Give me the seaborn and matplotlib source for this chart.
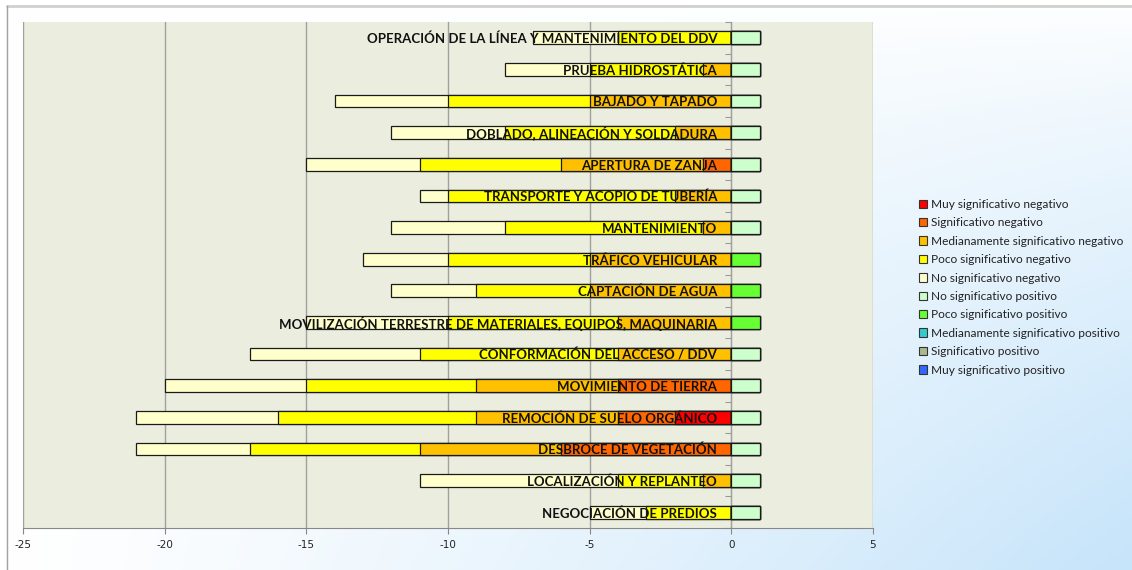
import numpy as np
import pandas as pd
import matplotlib
matplotlib.use("Agg")
import matplotlib.pyplot as plt
from matplotlib.patches import Patch
import seaborn as sns

# ---------------- data (top to bottom) ----------------
categories = [
    "OPERACIÓN DE LA LÍNEA Y MANTENIMIENTO DEL DDV",
    "PRUEBA HIDROSTÁTICA",
    "BAJADO Y TAPADO",
    "DOBLADO, ALINEACIÓN Y SOLDADURA",
    "APERTURA DE ZANJA",
    "TRANSPORTE Y ACOPIO DE TUBERÍA",
    "MANTENIMIENTO",
    "TRÁFICO VEHICULAR",
    "CAPTACIÓN DE AGUA",
    "MOVILIZACIÓN TERRESTRE DE MATERIALES, EQUIPOS, MAQUINARIA",
    "CONFORMACIÓN DEL ACCESO / DDV",
    "MOVIMIENTO DE TIERRA",
    "REMOCIÓN DE SUELO ORGÁNICO",
    "DESBROCE DE VEGETACIÓN",
    "LOCALIZACIÓN Y REPLANTEO",
    "NEGOCIACIÓN DE PREDIOS",
]
muy_sig_neg  = [0, 0, 0, 0, 0, 0, 0, 0, 0, 0, 0, 0, -2, 0, 0, 0]
sig_neg      = [0, 0, 0, 0, -1, 0, 0, 0, 0, 0, 0, -4, -2, -6, 0, 0]
med_sig_neg  = [0, -1, -5, -2, -5, -2, -1, -5, -5, -4, -4, -5, -5, -5, -1, 0]
poco_sig_neg = [-4, -4, -5, -6, -5, -8, -7, -5, -4, -6, -7, -6, -7, -6, -3, -3]
no_sig_neg   = [-3, -3, -4, -4, -4, -1, -4, -3, -3, -5, -6, -5, -5, -4, -7, -2]
no_sig_pos   = [1, 1, 1, 1, 1, 1, 1, 0, 0, 0, 1, 1, 1, 1, 1, 1]
poco_sig_pos = [0, 0, 0, 0, 0, 0, 0, 1, 1, 1, 0, 0, 0, 0, 0, 0]
med_sig_pos  = [0] * 16
sig_pos      = [0] * 16
muy_sig_pos  = [0] * 16

series_names = [
    "Muy significativo negativo",
    "Significativo negativo",
    "Medianamente significativo negativo",
    "Poco significativo negativo",
    "No significativo negativo",
    "No significativo positivo",
    "Poco significativo positivo",
    "Medianamente significativo positivo",
    "Significativo positivo",
    "Muy significativo positivo",
]
colors = ["#FF0000", "#FF6600", "#FFC000", "#FFFF00", "#FFFFCC",
          "#CCFFCC", "#66FF33", "#33CCCC", "#A9B98F", "#3366FF"]

neg_series = [muy_sig_neg, sig_neg, med_sig_neg, poco_sig_neg, no_sig_neg]
pos_series = [no_sig_pos, poco_sig_pos, med_sig_pos, sig_pos, muy_sig_pos]

# ---------------- figure ----------------
W, H = 1132, 570
fig = plt.figure(figsize=(W / 100, H / 100), dpi=100)

# background gradient
bg = fig.add_axes([0, 0, 1, 1], zorder=-10)
u = np.linspace(0, 1, 300)[None, :]
v = np.linspace(0, 1, 150)[:, None]
t = np.clip((u ** 1.2) * (v ** 0.8), 0, 1)
c0 = np.array([1.0, 1.0, 1.0])
c1 = np.array([0xC6, 0xE4, 0xFA]) / 255
img = c0[None, None, :] * (1 - t[..., None]) + c1[None, None, :] * t[..., None]
bg.imshow(img, aspect="auto", extent=[0, 1, 0, 1], origin="upper")
bg.set_xlim(0, 1)
bg.set_ylim(0, 1)
bg.axis("off")
# frame lines (top and left)
bg.plot([6 / W, 1], [1 - 6 / H, 1 - 6 / H], color="#D0D0D0", lw=2, solid_capstyle="butt")
bg.plot([6.5 / W, 6.5 / W], [0, 1 - 6 / H], color="#A0A0A0", lw=1)

ax = fig.add_axes([23 / W, 1 - 528 / H, (873 - 23) / W, (528 - 22) / H])
ax.set_facecolor("#EBEEDF")

plt.rcParams["font.family"] = ["Lato", "DejaVu Sans"]

df = pd.DataFrame({"cat": categories})
bar_kw = dict(orient="h", order=categories, width=0.4, saturation=1,
              edgecolor="#1a1a1a", linewidth=0.9, errorbar=None, ax=ax)

# negative side: cumulative, largest magnitude first
neg_cum = np.cumsum(np.array(neg_series), axis=0)
for k in range(4, -1, -1):
    df["val"] = neg_cum[k]
    sns.barplot(data=df, x="val", y="cat", color=colors[k], **bar_kw)

# positive side
pos_cum = np.cumsum(np.array(pos_series), axis=0)
for k in range(4, -1, -1):
    df["val"] = pos_cum[k]
    sns.barplot(data=df, x="val", y="cat", color=colors[5 + k], **bar_kw)

ax.set_xlim(-25, 5)
ax.set_ylim(len(categories) - 0.5, -0.5)
ax.set_xticks(np.arange(-25, 6, 5))
ax.set_xticklabels([str(x) for x in range(-25, 6, 5)], fontsize=7.5, color="#222222")
ax.set_yticks(np.arange(-0.5, len(categories), 1))
ax.set_yticklabels([])
ax.tick_params(axis="y", length=4, color="#999999", direction="out")
ax.tick_params(axis="x", length=4, color="#888888", pad=5)
ax.set_xlabel("")
ax.set_ylabel("")
ax.xaxis.grid(True, color="#A0A0A0", lw=1)
ax.yaxis.grid(False)
ax.set_axisbelow(True)
for s in ["top", "right"]:
    ax.spines[s].set_visible(False)
ax.spines["left"].set_position(("data", 0))
ax.spines["left"].set_color("#999999")
ax.spines["left"].set_zorder(0.5)
ax.spines["bottom"].set_color("#888888")

# category labels inside the plot
for i, name in enumerate(categories):
    ax.text(-0.5, i + 0.04, name, ha="right", va="center", fontsize=9.5,
            fontweight="bold", color="#111111", zorder=10)

# legend
handles = [Patch(facecolor=c, edgecolor="#333333", linewidth=0.8) for c in colors]
fig.legend(handles, series_names, loc="upper left", bbox_to_anchor=(919 / W, 1 - 199 / H),
           frameon=False, fontsize=8.6, handlelength=0.7, handleheight=0.7,
           handletextpad=0.3, labelspacing=0.62, borderpad=0, borderaxespad=0,
           labelcolor="#222222")

fig.savefig("out.png", dpi=100)
